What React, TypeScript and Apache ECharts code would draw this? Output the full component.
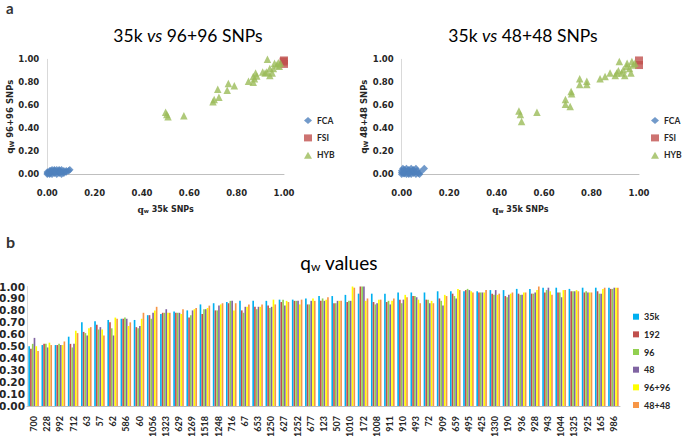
import React, { useEffect, useRef } from "react";
import * as echarts from "echarts";

// ---------- Panel b data ----------
const CATEGORIES = ["700","228","992","712","63","57","62","586","60","1056","1323","629","1269","1518","1248","716","67","653","1250","627","1252","677","123","507","1010","172","1008","911","910","493","72","909","659","495","425","1330","190","936","928","943","1044","1325","925","165","986"];
const SERIES_NAMES = ["35k", "192", "96", "48", "96+96", "48+48"];
const V_35K   = [0.50,0.51,0.51,0.58,0.70,0.71,0.72,0.73,0.72,0.76,0.77,0.79,0.80,0.85,0.86,0.87,0.88,0.88,0.88,0.89,0.89,0.90,0.92,0.92,0.93,0.94,0.94,0.94,0.95,0.95,0.95,0.96,0.96,0.96,0.96,0.97,0.97,0.98,0.98,0.99,0.99,0.98,0.99,0.99,0.99];
const V_192   = [0.48,0.52,0.51,0.52,0.62,0.68,0.70,0.73,0.66,0.76,0.78,0.78,0.74,0.77,0.80,0.86,0.80,0.83,0.84,0.87,0.88,0.85,0.88,0.86,0.87,1.00,0.87,0.87,0.89,0.92,0.89,0.90,0.94,0.97,0.95,0.94,0.92,0.94,0.94,0.95,0.95,0.96,0.95,0.96,0.98];
const V_96    = [0.52,0.52,0.52,0.49,0.61,0.64,0.65,0.74,0.65,0.73,0.78,0.78,0.76,0.81,0.80,0.88,0.78,0.81,0.82,0.89,0.88,0.85,0.90,0.86,0.88,1.00,0.85,0.88,0.86,0.92,0.89,0.88,0.92,0.98,0.95,0.93,0.91,0.93,0.94,0.97,0.95,0.96,0.96,0.94,0.98];
const V_48    = [0.57,0.49,0.51,0.52,0.59,0.66,0.59,0.73,0.67,0.78,0.81,0.78,0.80,0.81,0.84,0.88,0.83,0.83,0.83,0.84,0.88,0.88,0.88,0.88,0.88,1.00,0.86,0.85,0.89,0.91,0.86,0.84,0.90,0.97,0.95,0.97,0.93,0.93,0.95,0.99,0.91,0.96,0.95,0.94,0.99];
const V_96_96 = [0.50,0.53,0.51,0.63,0.65,0.64,0.74,0.67,0.73,0.80,0.78,0.77,0.81,0.82,0.85,0.80,0.83,0.83,0.89,0.88,0.85,0.90,0.89,0.88,1.00,0.88,0.89,0.88,0.93,0.89,0.88,0.93,0.98,0.96,0.95,0.93,0.94,0.95,0.97,0.96,0.97,0.97,0.95,0.98,0.99];
const V_48_48 = [0.46,0.51,0.54,0.61,0.66,0.59,0.73,0.70,0.78,0.83,0.78,0.81,0.82,0.84,0.86,0.86,0.85,0.85,0.85,0.87,0.89,0.88,0.91,0.88,0.99,0.90,0.89,0.90,0.91,0.86,0.86,0.92,0.97,0.95,0.97,0.94,0.95,0.95,1.00,0.93,0.97,0.96,0.95,0.99,0.99];
const BAR_VALUES = [V_35K, V_192, V_96, V_48, V_96_96, V_48_48];
const BAR_COLORS = ["#00B0F0", "#C0504D", "#92D050", "#8064A2", "#FFFF00", "#F79646"];

// ---------- Panel a data ----------
const GROUPS = ["FCA", "FSI", "HYB"];
const LEFT_FCA = [[0.00,0.01],[0.00,0.02],[0.01,0.00],[0.01,0.03],[0.01,0.01],[0.02,0.02],[0.02,0.04],[0.02,0.00],[0.03,0.01],[0.03,0.03],[0.03,0.04],[0.04,0.02],[0.04,0.00],[0.04,0.04],[0.05,0.03],[0.05,0.01],[0.05,0.04],[0.06,0.02],[0.06,0.04],[0.06,0.00],[0.07,0.01],[0.07,0.03],[0.08,0.02],[0.08,0.03],[0.09,0.03],[0.095,0.04],[0.00,0.00],[0.015,0.03],[0.035,0.02],[0.055,0.02]];
const LEFT_FSI = [[1.0,0.99],[1.0,0.96],[0.998,0.98]];
const LEFT_HYB = [[0.50,0.54],[0.505,0.52],[0.51,0.50],[0.577,0.51],[0.70,0.63],[0.705,0.65],[0.725,0.67],[0.72,0.74],[0.76,0.73],[0.765,0.79],[0.79,0.77],[0.85,0.81],[0.87,0.85],[0.88,0.88],[0.885,0.855],[0.87,0.80],[0.875,0.83],[0.91,0.89],[0.93,1.00],[0.927,0.89],[0.94,0.86],[0.95,0.88],[0.955,0.92],[0.96,0.965],[0.97,0.95],[0.976,0.97],[0.985,0.965],[0.98,0.94],[0.94,0.92],[0.92,0.88]];
const RIGHT_FCA = [[0.00,0.00],[0.00,0.03],[0.005,0.05],[0.01,0.01],[0.01,0.04],[0.015,0.02],[0.02,0.00],[0.02,0.05],[0.025,0.03],[0.03,0.01],[0.03,0.04],[0.035,0.02],[0.04,0.00],[0.04,0.05],[0.045,0.03],[0.05,0.01],[0.05,0.04],[0.055,0.02],[0.06,0.05],[0.06,0.00],[0.065,0.03],[0.07,0.01],[0.075,0.00],[0.08,0.02],[0.095,0.05],[0.00,0.015],[0.01,0.005],[0.03,0.00]];
const RIGHT_FSI = [[1.0,0.99],[1.0,0.95]];
const RIGHT_HYB = [[0.494,0.55],[0.50,0.52],[0.505,0.46],[0.57,0.54],[0.69,0.65],[0.69,0.61],[0.71,0.59],[0.714,0.72],[0.716,0.70],[0.75,0.83],[0.75,0.78],[0.78,0.81],[0.78,0.78],[0.836,0.83],[0.857,0.85],[0.878,0.88],[0.90,0.86],[0.913,0.90],[0.917,0.98],[0.934,0.91],[0.94,0.86],[0.948,0.94],[0.95,0.965],[0.96,0.92],[0.97,0.98],[0.976,0.95],[0.966,0.88],[0.927,0.88],[0.983,0.965],[0.906,0.88]];
const GROUP_COLORS = ["#4F81BD", "#C0504D", "#9BBB59"];
const GROUP_SYMBOLS = ["diamond", "rect", "triangle"];

const TEXT = "#262626";

function scatterXAxis(gridIndex: number) {
  return {
    type: "value", gridIndex, min: 0, max: 1, interval: 0.2,
    splitLine: { show: false }, axisTick: { show: false },
    axisLine: { show: true, lineStyle: { color: "#bfbfbf", width: 1 } },
    axisLabel: { formatter: (v: number) => v.toFixed(2), fontFamily: "DejaVu Sans", fontWeight: "bold", fontSize: 8.5, color: TEXT, margin: 14 },
    name: "{q|q}{s|w} 35k SNPs", nameLocation: "middle", nameGap: 31,
    nameTextStyle: {
      fontFamily: "DejaVu Sans", fontWeight: "bold", fontSize: 8, color: TEXT,
      rich: {
        q: { fontFamily: "DejaVu Serif", fontSize: 9, color: TEXT },
        s: { fontFamily: "DejaVu Sans", fontWeight: "bold", fontSize: 5.5, color: TEXT, verticalAlign: "bottom", lineHeight: 6 },
      },
    },
  };
}
function scatterYAxis(gridIndex: number, label: string) {
  return {
    type: "value", gridIndex, min: 0, max: 1, interval: 0.2,
    splitLine: { show: false }, axisTick: { show: false },
    axisLine: { show: true, lineStyle: { color: "#d9d9d9", width: 1 } },
    axisLabel: { formatter: (v: number) => v.toFixed(2), fontFamily: "DejaVu Sans", fontWeight: "bold", fontSize: 8.5, color: TEXT, margin: 8 },
    name: "{q|q}{s|W} " + label, nameLocation: "middle", nameGap: 32,
    nameTextStyle: {
      fontFamily: "DejaVu Sans", fontWeight: "bold", fontSize: 8.5, color: TEXT,
      rich: {
        q: { fontFamily: "DejaVu Sans", fontSize: 9, color: TEXT },
        s: { fontFamily: "DejaVu Sans", fontSize: 6, color: TEXT, verticalAlign: "bottom", lineHeight: 6 },
      },
    },
  };
}
function scatterSeries(idx: number, sets: number[][][]) {
  return GROUPS.map((g, i) => ({
    type: "scatter", name: g, xAxisIndex: idx, yAxisIndex: idx,
    data: sets[i], symbol: GROUP_SYMBOLS[i], symbolSize: i === 1 ? 8 : 7.5,
    itemStyle: { color: GROUP_COLORS[i] }, clip: false,
  }));
}
function scatterLegend(left: number) {
  return {
    data: GROUPS, orient: "vertical", left, top: 110.5, itemWidth: 8, itemHeight: 7, itemGap: 7.4,
    textStyle: { fontFamily: "Lato", fontWeight: "bold", fontSize: 8.5, color: TEXT, lineHeight: 10 },
    selectedMode: false,
  };
}
function scatterTitle(left: number, text: string) {
  return {
    text: "35k {i|vs} " + text, left, top: 21, textAlign: "center",
    textStyle: {
      fontFamily: "Lato", fontWeight: "normal", fontSize: 17.5, color: "#000",
      rich: { i: { fontFamily: "Lato", fontWeight: "normal", fontStyle: "italic", fontSize: 17.5, color: "#000" } },
    },
  };
}

export default function App() {
  const ref = useRef<HTMLDivElement>(null);
  useEffect(() => {
    if (!ref.current) return;
    const chart = echarts.init(ref.current, null, { renderer: "svg" });
    const option: any = {
      animation: false,
      backgroundColor: "#ffffff",
      graphic: [
        { type: "text", left: 6, top: 0, style: { text: "a", fontFamily: "Lato", fontWeight: "bold", fontSize: 15, fill: "#333" } },
        { type: "text", left: 6, top: 233, style: { text: "b", fontFamily: "Lato", fontWeight: "bold", fontSize: 16, fill: "#333" } },
      ],
      title: [
        scatterTitle(183, "96+96 SNPs"),
        scatterTitle(518, "48+48 SNPs"),
        {
          text: "{q|q}{s|w} values", left: 334, top: 248, textAlign: "center",
          textStyle: {
            fontFamily: "Lato", fontWeight: "normal", fontSize: 19, color: "#000",
            rich: {
              q: { fontFamily: "Lato", fontWeight: "normal", fontSize: 19, color: "#000" },
              s: { fontFamily: "Lato", fontWeight: "normal", fontSize: 12, color: "#000", verticalAlign: "bottom", lineHeight: 10 },
            },
          },
        },
      ],
      legend: [
        scatterLegend(299),
        scatterLegend(646),
        {
          data: SERIES_NAMES, orient: "vertical", left: 628, top: 305.7, itemWidth: 6, itemHeight: 6, itemGap: 5.66,
          icon: "rect",
          textStyle: { fontFamily: "Lato", fontWeight: "bold", fontSize: 9, color: TEXT, lineHeight: 12 },
          selectedMode: false,
        },
      ],
      grid: [
        { left: 47.3, top: 59.3, width: 236.7, height: 115, outerBoundsMode: "none" },
        { left: 401.7, top: 59.3, width: 237.3, height: 115, outerBoundsMode: "none" },
        { left: 27, top: 286.5, width: 593, height: 119.5, outerBoundsMode: "none" },
      ],
      xAxis: [
        scatterXAxis(0),
        scatterXAxis(1),
        {
          type: "category", gridIndex: 2, data: CATEGORIES,
          axisTick: { show: false },
          axisLine: { show: true, lineStyle: { color: "#bfbfbf", width: 1 } },
          axisLabel: { interval: 0, rotate: 90, margin: 10, fontFamily: "Lato", fontWeight: "bold", fontSize: 9, color: TEXT },
        },
      ],
      yAxis: [
        scatterYAxis(0, "96+96 SNPs"),
        scatterYAxis(1, "48+48 SNPs"),
        {
          type: "value", gridIndex: 2, min: 0, max: 1, interval: 0.1,
          splitLine: { show: false }, axisTick: { show: false },
          axisLine: { show: true, lineStyle: { color: "#d9d9d9", width: 1 } },
          axisLabel: { formatter: (v: number) => v.toFixed(2), fontFamily: "DejaVu Sans", fontWeight: "bold", fontSize: 10.5, color: TEXT, margin: 2 },
        },
      ],
      series: [
        ...scatterSeries(0, [LEFT_FCA, LEFT_FSI, LEFT_HYB]),
        ...scatterSeries(1, [RIGHT_FCA, RIGHT_FSI, RIGHT_HYB]),
        ...SERIES_NAMES.map((n, i) => ({
          type: "bar", name: n, xAxisIndex: 2, yAxisIndex: 2,
          data: BAR_VALUES[i], barGap: "8%", barCategoryGap: "20%",
          itemStyle: { color: BAR_COLORS[i] },
        })),
      ],
    };
    chart.setOption(option);
    return () => chart.dispose();
  }, []);
  return (
    <div
      ref={ref}
      style={{ position: "fixed", left: 0, top: 0, width: 685, height: 436, background: "#fff" }}
    />
  );
}
